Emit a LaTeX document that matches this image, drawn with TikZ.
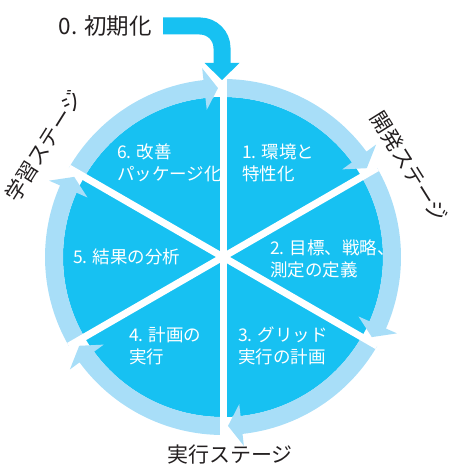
\documentclass[tikz,border=0pt]{standalone}
\usepackage{fontspec}
\setmainfont{Noto Sans CJK JP}
\definecolor{dblue}{RGB}{23,193,242}
\definecolor{lblue}{RGB}{168,222,248}
\definecolor{txt}{RGB}{35,31,32}
\tikzset{
  inlabel/.style={text=white, font=\fontsize{17.5}{22}\selectfont, align=left, anchor=west, inner sep=0pt},
  stagelabel/.style={text=txt, font=\fontsize{21}{24}\selectfont, inner sep=0pt},
  divider/.style={white, line width=7pt},
}
\begin{document}
\begin{tikzpicture}[x=1pt,y=1pt]
\useasboundingbox (0,0) rectangle (450,465);
\coordinate (C) at (223,208);
\fill[dblue] (C) circle (160);
\foreach \s in {90,30,-30,-90,-150,-210}{
  \pgfmathsetmacro\e{\s-60}
  \pgfmathsetmacro\b{\e+6.3}
  \pgfmathsetmacro\t{\e+1.7}
  \fill[lblue] ([shift={(\s:160)}]C) arc[start angle=\s, end angle=\b, radius=160]
     -- ([shift={(\b:148)}]C) -- ([shift={(\t:169)}]C) -- ([shift={(\b:190)}]C)
     -- ([shift={(\b:178)}]C) arc[start angle=\b, end angle=\s, radius=178] -- cycle;
}
\foreach \a in {90,30,-30,-90,-150,150}
  \draw[divider] (C) -- ([shift={(\a:178)}]C);
% initialization arrow
\coordinate (a0) at (163,439);
\coordinate (a1) at (222,439);
\coordinate (a2) at (222,401);
\coordinate (hl) at (204.5,402);
\coordinate (hr) at (239.5,402);
\coordinate (ht) at (222,385);
\draw[white, line width=23pt, rounded corners=22pt] (a0) -- (a1) -- (a2);
\filldraw[white, line width=6pt, line join=miter] (hl) -- (hr) -- (ht) -- cycle;
\draw[dblue, line width=17pt, rounded corners=22pt] (a0) -- (a1) -- (a2);
\fill[dblue] (hl) -- (hr) -- (ht) -- cycle;
\node[text=txt, font=\fontsize{22.5}{26}\selectfont, anchor=east, inner sep=0pt] (init) at (152,439) {0. 初期化};
% inner labels
\node[inlabel] (t1) at (242,302.5) {1. 環境と\\特性化};
\node[inlabel] (t2) at (270,206) {2. 目標、戦略、\\測定の定義};
\node[inlabel] (t3) at (238,119) {3. グリッド\\実行の計画};
\node[inlabel] (t4) at (129,119) {4. 計画の\\実行};
\node[inlabel] (t5) at (73,208) {5. 結果の分析};
\node[inlabel] (t6) at (117,302.5) {6. 改善\\パッケージ化};
% stage labels
\node[stagelabel, rotate=-58] (s1) at (409,298) {開発ステージ};
\node[stagelabel, rotate=58] (s2) at (44,319) {学習ステージ};
\node[stagelabel] (s3) at (230,10) {実行ステージ};
\end{tikzpicture}
\end{document}
